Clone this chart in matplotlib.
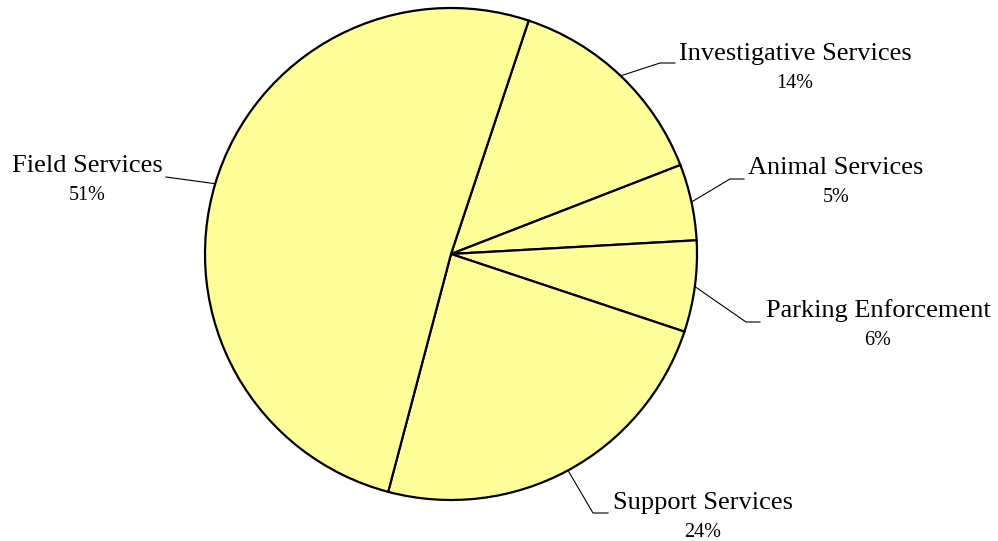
import numpy as np
import matplotlib
matplotlib.use("Agg")
import matplotlib.pyplot as plt

# budget shares by division
divisions = ["Investigative Services", "Animal Services", "Parking Enforcement",
             "Support Services", "Field Services"]
shares = [14, 5, 6, 24, 51]
pct_labels = ["14%", "5%", "6%", "24%", "51%"]

W, H = 998, 541
CENTER = (451, H - 254)
RADIUS = 246
START = 71.6

# label layout in pixel coords (top-left origin): elbow point, line end, text centre x, label baseline
layout = {
    "Investigative Services": dict(elbow=(660, 63), end=(675, 63), tx=795, base=60),
    "Animal Services": dict(elbow=(730, 179), end=(744, 179), tx=836, base=174),
    "Parking Enforcement": dict(elbow=(746, 322), end=(760, 322), tx=878, base=317),
    "Support Services": dict(elbow=(593, 513), end=(608, 513), tx=703, base=509),
    "Field Services": dict(elbow=(166, 177), end=(166, 177), tx=87, base=172),
}

plt.rcParams["font.family"] = ["Liberation Serif", "DejaVu Serif"]

fig = plt.figure(figsize=(W / 100, H / 100), dpi=100)
ax = fig.add_axes([0, 0, 1, 1])

wedges, _ = ax.pie(
    shares,
    startangle=START,
    counterclock=False,
    center=CENTER,
    radius=RADIUS,
    colors=["#FFFF99"] * len(shares),
    wedgeprops=dict(edgecolor="black", linewidth=1.6),
)
ax.set_xlim(0, W)
ax.set_ylim(0, H)
ax.set_aspect("equal")
ax.axis("off")


def py(y):
    return H - y


for w, name, pct in zip(wedges, divisions, pct_labels):
    mid = np.deg2rad((w.theta1 + w.theta2) / 2)
    sx = CENTER[0] + RADIUS * np.cos(mid)
    sy = CENTER[1] + RADIUS * np.sin(mid)
    lay = layout[name]
    ex, ey = lay["elbow"]
    fx, fy = lay["end"]
    ax.plot([sx, ex, fx], [sy, py(ey), py(fy)], color="black", linewidth=0.8)
    ax.text(lay["tx"], py(lay["base"]), name, ha="center", va="baseline", fontsize=19)
    ax.text(lay["tx"], py(lay["base"] + 28), pct, ha="center", va="baseline", fontsize=14.5)

fig.savefig("out.png", dpi=100, facecolor="white")
